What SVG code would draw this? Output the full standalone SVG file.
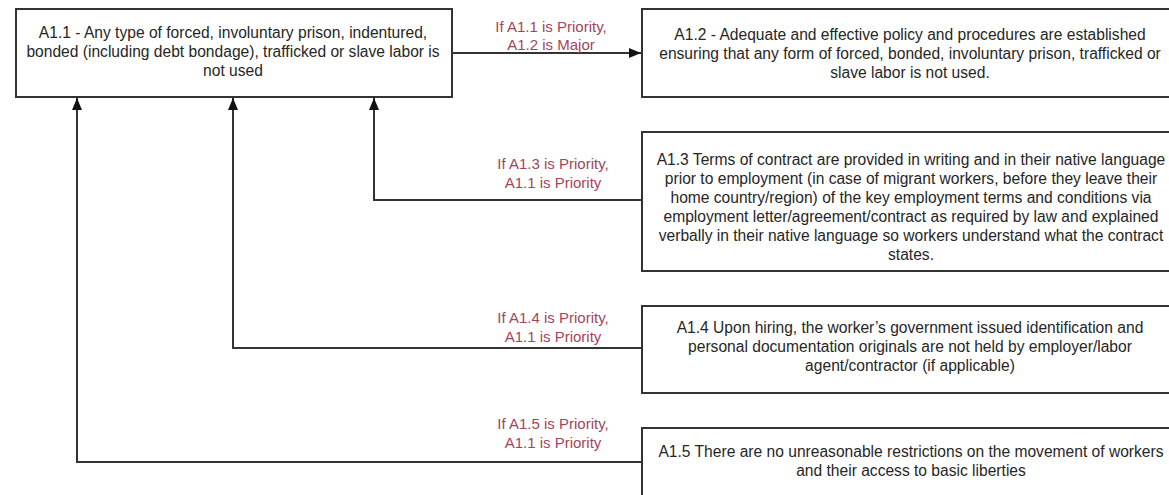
<svg xmlns="http://www.w3.org/2000/svg" width="1169" height="495" viewBox="0 0 1169 495">
<defs>
<style>
.box{fill:#fff;stroke:#333;stroke-width:2}
.t{font-family:"Liberation Sans",Arial,sans-serif;font-size:15.6px;fill:#262626;text-anchor:middle}
.lbl{font-family:"Liberation Sans",Arial,sans-serif;font-size:15px;fill:#a3455a;text-anchor:middle}
.c{fill:none;stroke:#333;stroke-width:2}
</style>
<marker id="ah" viewBox="0 0 12 10" refX="12" refY="5" markerWidth="12" markerHeight="10" markerUnits="userSpaceOnUse" orient="auto">
<path d="M0,0 L12,5 L0,10 Z" fill="#111"/>
</marker>
</defs>
<rect width="1169" height="495" fill="#fff"/>
<g id="connectors">
<path class="c" d="M452,53 L641,53" marker-end="url(#ah)"/>
<path class="c" d="M642,200 L374,200 L374,98" marker-end="url(#ah)"/>
<path class="c" d="M642,348 L233,348 L233,98" marker-end="url(#ah)"/>
<path class="c" d="M642,462 L77,462 L77,98" marker-end="url(#ah)"/>
</g>
<g id="labels">
<text class="lbl" x="551" y="32">If A1.1 is Priority,</text>
<text class="lbl" x="551" y="50">A1.2 is Major</text>
<text class="lbl" x="553" y="169">If A1.3 is Priority,</text>
<text class="lbl" x="553" y="188">A1.1 is Priority</text>
<text class="lbl" x="553" y="323">If A1.4 is Priority,</text>
<text class="lbl" x="553" y="342">A1.1 is Priority</text>
<text class="lbl" x="553" y="429">If A1.5 is Priority,</text>
<text class="lbl" x="553" y="448">A1.1 is Priority</text>
</g>
<g id="A1.1">
<rect class="box" x="16" y="9" width="436" height="88"/>
<text class="t" x="233" y="38">A1.1 - Any type of forced, involuntary prison, indentured,</text>
<text class="t" x="233" y="57">bonded (including debt bondage), trafficked or slave labor is</text>
<text class="t" x="233" y="76">not used</text>
</g>
<g id="A1.2">
<rect class="box" x="642" y="9" width="560" height="88"/>
<text class="t" x="910" y="40">A1.2 - Adequate and effective policy and procedures are established</text>
<text class="t" x="910" y="59">ensuring that any form of forced, bonded, involuntary prison, trafficked or</text>
<text class="t" x="910" y="78">slave labor is not used.</text>
</g>
<g id="A1.3">
<rect class="box" x="642" y="132" width="560" height="139"/>
<text class="t" x="911" y="165">A1.3 Terms of contract are provided in writing and in their native language</text>
<text class="t" x="911" y="184">prior to employment (in case of migrant workers, before they leave their</text>
<text class="t" x="911" y="203">home country/region) of the key employment terms and conditions via</text>
<text class="t" x="911" y="222">employment letter/agreement/contract as required by law and explained</text>
<text class="t" x="911" y="241">verbally in their native language so workers understand what the contract</text>
<text class="t" x="911" y="260">states.</text>
</g>
<g id="A1.4">
<rect class="box" x="642" y="306" width="560" height="87"/>
<text class="t" x="910" y="333">A1.4 Upon hiring, the worker’s government issued identification and</text>
<text class="t" x="910" y="352">personal documentation originals are not held by employer/labor</text>
<text class="t" x="910" y="371">agent/contractor (if applicable)</text>
</g>
<g id="A1.5">
<rect class="box" x="642" y="428" width="560" height="80"/>
<text class="t" x="911" y="457">A1.5 There are no unreasonable restrictions on the movement of workers</text>
<text class="t" x="911" y="476">and their access to basic liberties</text>
</g>
</svg>
